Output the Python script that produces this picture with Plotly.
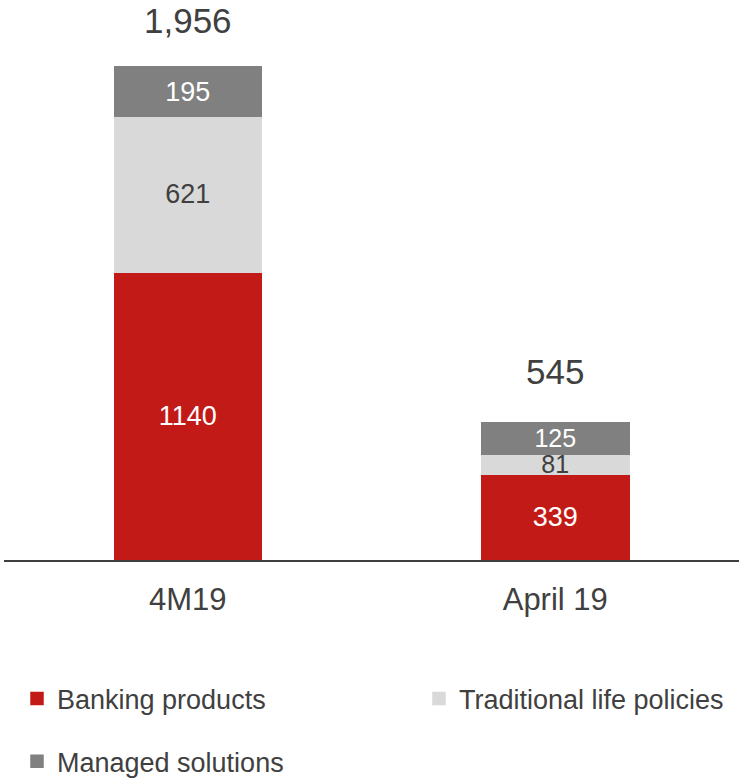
import plotly.graph_objects as go

categories = ["4M19", "April 19"]
banking = [1140, 339]
traditional = [621, 81]
managed = [195, 125]
totals = [1956, 545]
total_labels = ["1,956", "545"]

FONT = "Liberation Sans, Arial, sans-serif"
DARK = "#404040"
RED = "#C21B17"
LIGHT = "#D9D9D9"
MID = "#808080"

fig = go.Figure()
series = [
    ("Banking products", banking, RED, "white", "legend", [27, 27]),
    ("Traditional life policies", traditional, LIGHT, DARK, "legend2", [27, 25]),
    ("Managed solutions", managed, MID, "white", "legend3", [27, 25]),
]
for name, vals, color, tcolor, leg, tsize in series:
    fig.add_trace(go.Bar(
        x=categories, y=vals, name=name,
        marker=dict(color=color, line=dict(width=1.5, color=color)),
        text=[str(v) for v in vals], textposition="inside", textangle=0,
        insidetextanchor="middle", constraintext="none",
        textfont=dict(family=FONT, size=tsize, color=tcolor),
        width=0.4, legend=leg,
    ))

for cat, tot, lab, ys in zip(categories, totals, total_labels, [25, 30]):
    fig.add_annotation(x=cat, y=tot, text=lab, showarrow=False,
                       yanchor="bottom", yshift=ys,
                       font=dict(family=FONT, size=35, color=DARK))

legfont = dict(family=FONT, size=27, color=DARK)
fig.update_layout(
    barmode="stack",
    width=743, height=778,
    margin=dict(l=4, r=4, t=0, b=218, autoexpand=False),
    plot_bgcolor="white", paper_bgcolor="white",
    showlegend=True,
    legend=dict(x=(17 - 4) / 735, y=-0.248, xanchor="left", yanchor="middle",
                font=legfont, bgcolor="rgba(0,0,0,0)"),
    legend2=dict(x=(419 - 4) / 735, y=-0.248, xanchor="left", yanchor="middle",
                 font=legfont, bgcolor="rgba(0,0,0,0)"),
    legend3=dict(x=(17 - 4) / 735, y=-0.360, xanchor="left", yanchor="middle",
                 font=legfont, bgcolor="rgba(0,0,0,0)"),
    xaxis=dict(showline=True, linecolor=DARK, linewidth=2, ticks="",
               tickfont=dict(family=FONT, size=31, color=DARK),
               ticklabelstandoff=11,
               showgrid=False, zeroline=False),
    yaxis=dict(visible=False, range=[0, 2222], showgrid=False, zeroline=False),
    font=dict(family=FONT, color=DARK),
)

fig.write_html("out.html")
